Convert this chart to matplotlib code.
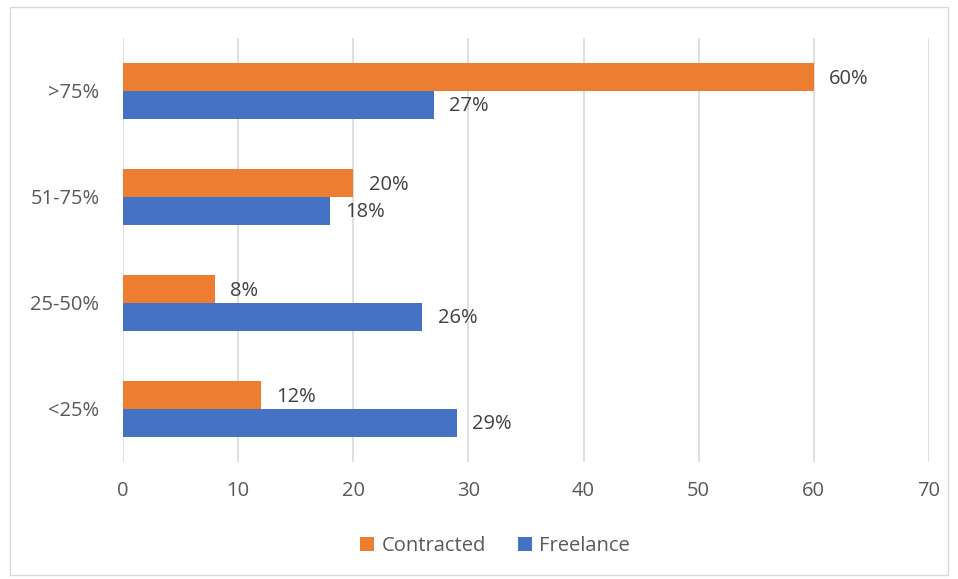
import matplotlib
matplotlib.use("Agg")
import matplotlib.pyplot as plt
from matplotlib.patches import Rectangle

categories = ["<25%", "25-50%", "51-75%", ">75%"]
contracted = [12, 8, 20, 60]
freelance = [29, 26, 18, 27]
xticks = [0, 10, 20, 30, 40, 50, 60, 70]

plt.rcParams['font.family'] = ['Open Sans', 'DejaVu Sans']
W, H = 958, 579
fig = plt.figure(figsize=(W/100, H/100), dpi=100)
fig.patch.set_facecolor('white')
fig.add_artist(Rectangle((10/W, 4/H), (948-10)/W, (572-4)/H, transform=fig.transFigure,
                         fill=False, edgecolor='#d9d9d9', linewidth=1))

ax = fig.add_axes([123/W, 1-462/H, (929-123)/W, (462-38)/H])
orange = '#ED7D31'
blue = '#4472C4'
txt = '#595959'
fs = 14.5
h = 0.26
y = list(range(len(categories)))
ax.barh([v + h/2 for v in y], contracted, height=h, color=orange, label='Contracted', zorder=3)
ax.barh([v - h/2 for v in y], freelance, height=h, color=blue, label='Freelance', zorder=3)
for i in y:
    ax.annotate(f"{contracted[i]}%", (contracted[i], i + h/2), xytext=(11, -1), textcoords='offset points',
                va='center', ha='left', fontsize=fs, color='#404040')
    ax.annotate(f"{freelance[i]}%", (freelance[i], i - h/2), xytext=(11, -1), textcoords='offset points',
                va='center', ha='left', fontsize=fs, color='#404040')
ax.set_xlim(0, 70)
ax.set_ylim(-0.5, 3.5)
ax.set_xticks(xticks)
ax.set_yticks(y)
ax.set_yticklabels(categories)
ax.grid(axis='x', color='#d9d9d9', linewidth=1.2, zorder=0)
for s in ax.spines.values():
    s.set_visible(False)
ax.tick_params(length=0, labelsize=fs, colors=txt)
ax.tick_params(axis='x', pad=14)
ax.tick_params(axis='y', pad=17)
handles, labels = ax.get_legend_handles_labels()
fig.legend(handles, labels, loc='center', bbox_to_anchor=(495/W, 1-546/H), ncol=2, frameon=False,
           fontsize=fs, handlelength=0.7, handleheight=0.7, handletextpad=0.35, columnspacing=1.6,
           labelcolor=txt)
fig.savefig('out.png', dpi=100, facecolor='white')
